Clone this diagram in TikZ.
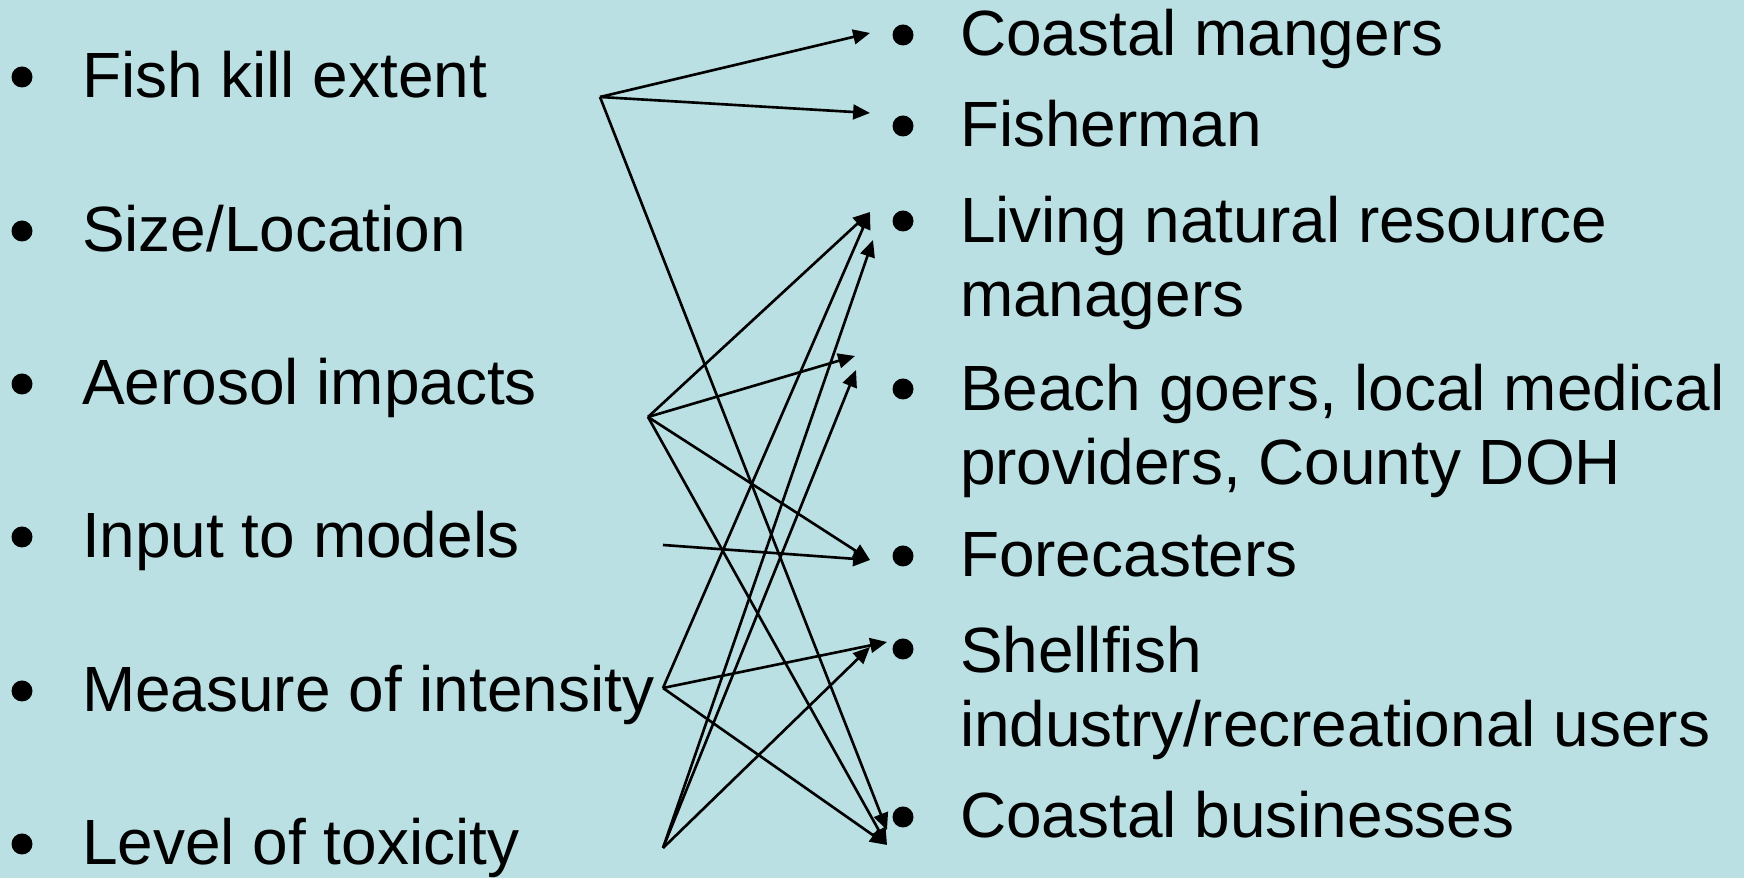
\documentclass[tikz,border=0pt]{standalone}
\usepackage{fontspec}
\setmainfont{Liberation Sans}
\usetikzlibrary{arrows.meta}
\definecolor{sea}{RGB}{186,224,227}
\begin{document}
\begin{tikzpicture}[x=0.1mm,y=-0.1mm,inner sep=0pt,outer sep=0pt,line width=0.75pt,
>={Triangle[length=4.8pt,width=4.2pt]},
item/.style={anchor=base west,align=left,font=\fontsize{18.2}{21.3}\selectfont}]
\fill[sea] (0,0) rectangle (1744,878);
\useasboundingbox (0,0) rectangle (1744,878);
% left column
\draw (82,98) node[item] (fk) {Fish kill extent};
\draw (82,252) node[item] (sz) {Size/Location};
\draw (82,405) node[item] (aer) {Aerosol impacts};
\draw (82,558) node[item] (inp) {Input to models};
\draw (82,712) node[item] (meas) {Measure of intensity};
\draw (82,865) node[item] (lvl) {Level of toxicity};
\foreach \y in {98,252,405,558,712,865}
  \fill (22,\y-21) circle[radius=1.05mm];
% right column (two-line items sit on their last line)
\draw (960,56) node[item] (cm) {Coastal mangers};
\draw (960,147) node[item] (fsh) {Fisherman};
\draw (960,317) node[item] (liv) {Living natural resource\\managers};
\draw (960,485) node[item] (bch) {Beach goers, local medical\\providers, County DOH};
\draw (960,577) node[item] (fc) {Forecasters};
\draw (960,747) node[item] (shf) {Shellfish\\industry/recreational users};
\draw (960,838) node[item] (cb) {Coastal businesses};
\foreach \y in {56,147,242,410,577,670,838}
  \fill (903,\y-21) circle[radius=1.05mm];
% arrow ends
\coordinate (fk-out) at (600,97);
\coordinate (aer-out) at (648,417);
\coordinate (inp-out) at (663,545);
\coordinate (meas-out) at (663,688);
\coordinate (lvl-out) at (663,848);
\coordinate (cm-in) at (870,33);
\coordinate (fsh-in) at (870,113);
\coordinate (liv-in) at (870,212);
\coordinate (liv-in2) at (873,240);
\coordinate (bch-in) at (855,356);
\coordinate (bch-in2) at (856,370);
\coordinate (fc-in) at (870,560);
\coordinate (shf-in) at (887,642);
\coordinate (shf-in2) at (870,647);
\coordinate (cb-in) at (887,830);
\coordinate (cb-in2) at (887,845);
% links
\draw[->] (fk-out) -- (cm-in);
\draw[->] (fk-out) -- (fsh-in);
\draw[->] (fk-out) -- (cb-in);
\draw[->] (aer-out) -- (liv-in);
\draw[->] (aer-out) -- (bch-in);
\draw[->] (aer-out) -- (fc-in);
\draw[->] (aer-out) -- (cb-in2);
\draw[->] (inp-out) -- (fc-in);
\draw[->] (meas-out) -- (liv-in);
\draw[->] (meas-out) -- (shf-in);
\draw[->] (meas-out) -- (cb-in2);
\draw[->] (lvl-out) -- (liv-in2);
\draw[->] (lvl-out) -- (bch-in2);
\draw[->] (lvl-out) -- (shf-in2);
\end{tikzpicture}
\end{document}
